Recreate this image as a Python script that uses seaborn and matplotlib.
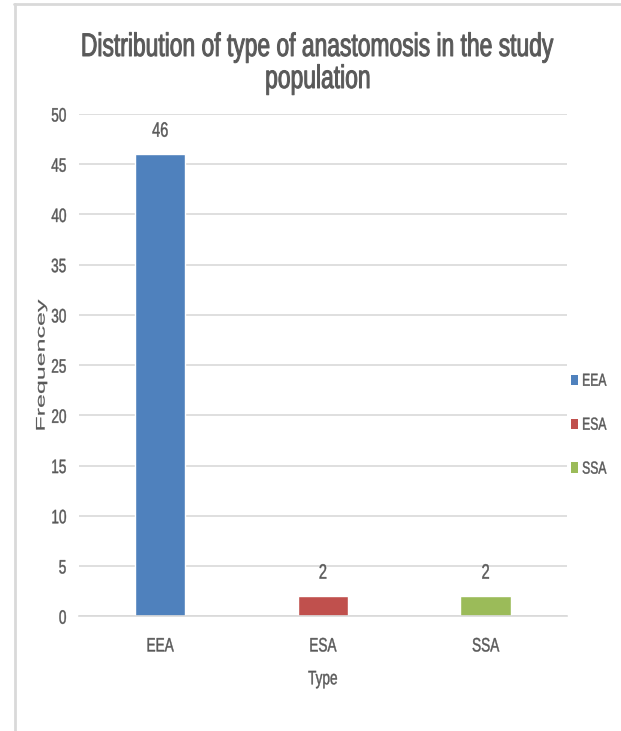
import matplotlib
matplotlib.use("Agg")
import numpy as np
import matplotlib.pyplot as plt
from matplotlib.lines import Line2D
from matplotlib.patches import Patch
from matplotlib.patheffects import AbstractPathEffect
from matplotlib.transforms import Affine2D
import seaborn as sns
import pandas as pd

# Data
types = ["EEA", "ESA", "SSA"]
frequency = [46, 2, 2]
colors = ["#4F81BD", "#C0504D", "#9BBB59"]

df = pd.DataFrame({"Type": types, "Frequency": frequency})


class Stretch(AbstractPathEffect):
    """Rescale glyphs in their own coordinates around an anchor, with an optional thin outline."""

    def __init__(self, sx=1.0, sy=1.0, ax_="center", ay_="center", lw=0.0):
        super().__init__()
        self.sx, self.sy, self.ax_, self.ay_, self.lw = sx, sy, ax_, ay_, lw

    def draw_path(self, renderer, gc, tpath, affine, rgbFace=None):
        ext = tpath.get_extents()
        if not np.all(np.isfinite([ext.x0, ext.x1, ext.y0, ext.y1])):
            renderer.draw_path(gc, tpath, affine, rgbFace)
            return
        x0 = {"left": ext.x0, "right": ext.x1}.get(self.ax_, 0.5 * (ext.x0 + ext.x1))
        y0 = 0.0 if self.ay_ == "baseline" else 0.5 * (ext.y0 + ext.y1)
        pre = Affine2D().translate(-x0, -y0).scale(self.sx, self.sy).translate(x0, y0)
        gc0 = renderer.new_gc()
        gc0.copy_properties(gc)
        if self.lw > 0 and rgbFace is not None:
            gc0.set_linewidth(self.lw)
            gc0.set_foreground(rgbFace)
        renderer.draw_path(gc0, tpath, pre + affine, rgbFace)
        gc0.restore()


TALL = 1 / 0.70   # narrow, tall lettering
sns.set_theme(style="white")
plt.rcParams["font.family"] = ["Liberation Sans", "DejaVu Sans"]
text_gray = "#595959"

fig = plt.figure(figsize=(6.21, 7.31), dpi=100)
ax = fig.add_axes([0.127, 0.157, 0.786, 0.687])

sns.barplot(data=df, x="Type", y="Frequency", hue="Type",
            palette=dict(zip(types, colors)), width=0.31,
            dodge=False, legend=False, ax=ax, saturation=1)

ax.set_ylim(0, 50)
ax.set_yticks(range(0, 51, 5))
ax.yaxis.grid(True, color="#D9D9D9", linewidth=1.2)
ax.set_axisbelow(True)
for s in ["top", "right", "left"]:
    ax.spines[s].set_visible(False)
ax.spines["bottom"].set_color("#D9D9D9")
ax.spines["bottom"].set_linewidth(1.2)
ax.tick_params(axis="y", length=0, labelsize=9.8, colors=text_gray, pad=9)
ax.tick_params(axis="x", length=0, labelsize=9.8, colors=text_gray, pad=16)

# Value labels above bars
for cont in ax.containers:
    for t in ax.bar_label(cont, fontsize=10.5, color=text_gray, padding=12):
        t.set_path_effects([Stretch(1.0, TALL, lw=0.3)])

ax.set_xlabel("Type", fontsize=9.8, color=text_gray, labelpad=14)
ax.xaxis.label.set_path_effects([Stretch(1.0, TALL, lw=0.3)])
# Rotated label: long along its run, thin across it
ax.set_ylabel("Frequencey", fontsize=9, color=text_gray)
ax.yaxis.set_label_coords(-0.064, 0.5)
ax.yaxis.label.set_path_effects([Stretch(2.0, 1.0, lw=0.15)])

# Chart title, two lines
title_lines = ["Distribution of type of anastomosis in the study", "population"]
for line, yb in zip(title_lines, [1 - 56 / 731, 1 - 88 / 731]):
    fig.text(0.512, yb, line, ha="center", va="baseline", fontsize=16.45,
             color=text_gray,
             path_effects=[Stretch(1.0, TALL, ay_="baseline", lw=0.7)])

handles = [Patch(facecolor=c, edgecolor="none") for c in colors]
leg = fig.legend(handles, types, loc="center left", bbox_to_anchor=(0.91, 0.419),
                 frameon=False, fontsize=8.75, handlelength=0.54, handleheight=0.93,
                 handletextpad=0.36, labelspacing=2.6, borderpad=0)
for t in leg.get_texts():
    t.set_color(text_gray)
    t.set_path_effects([Stretch(1.0, TALL, ax_="left", lw=0.3)])

fig.canvas.draw()
for lbl in ax.get_yticklabels():
    lbl.set_path_effects([Stretch(1.0, TALL, ax_="right", lw=0.3)])
for lbl in ax.get_xticklabels():
    lbl.set_path_effects([Stretch(1.0, TALL, lw=0.3)])

# Outer chart frame (left and top edges)
fig.add_artist(Line2D([0.024, 0.024], [0.0, 0.994], color="#D9D9D9", linewidth=2,
                      transform=fig.transFigure))
fig.add_artist(Line2D([0.023, 1.0], [0.994, 0.994], color="#D9D9D9", linewidth=2,
                      transform=fig.transFigure))

fig.savefig("out.png", dpi=100, facecolor="white")
